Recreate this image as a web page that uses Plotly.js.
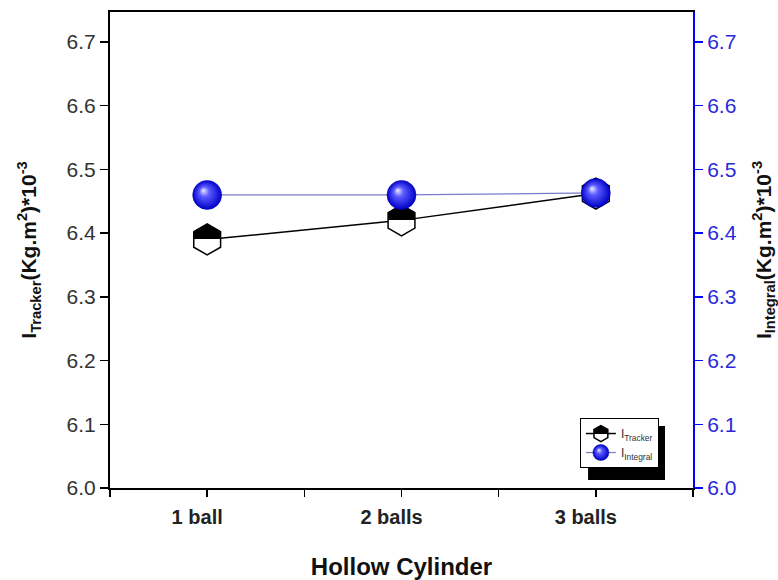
<!DOCTYPE html>
<html><head><meta charset="utf-8">
<script src="https://cdn.plot.ly/plotly-3.0.1.min.js"></script>
<style>html,body{margin:0;padding:0;background:#fff}#chart{width:778px;height:580px}</style>
</head><body><div id="chart"></div>
<script>
// ---- data ----
const categories = ['1 ball', '2 balls', '3 balls'];
const trackerValues = [6.39, 6.42, 6.462];
const integralValues = [6.46, 6.46, 6.463];
const yTickValues = [6.0, 6.1, 6.2, 6.3, 6.4, 6.5, 6.6, 6.7];
const xMinorTicks = [-0.5, 0.5, 1.5, 2.5];
const trackerName = 'I<sub>Tracker</sub>';
const integralName = 'I<sub>Integral</sub>';
const xTitle = 'Hollow Cylinder';
const yLeftTitle = 'I<sub>Tracker</sub>(Kg.m<sup>2</sup>)*10<sup>-3</sup>';
const yRightTitle = 'I<sub>Integral</sub>(Kg.m<sup>2</sup>)*10<sup>-3</sup>';

const xPos = categories.map((c, i) => i);
const FONT = 'Liberation Sans, Arial, sans-serif';
const BLUE = '#0000ff';
const BLUE_TXT = '#2a2ad8';

const traces = [
  {
    x: xPos, y: trackerValues, name: trackerName, type: 'scatter', mode: 'lines+markers',
    yaxis: 'y',
    line: {color: '#000000', width: 1.5},
    marker: {symbol: 'hexagon', size: 31, color: '#000000',
             gradient: {type: 'vertical', color: '#ffffff'},
             line: {color: '#000000', width: 1.5}}
  },
  {
    x: xPos, y: integralValues, name: integralName, type: 'scatter', mode: 'lines+markers',
    yaxis: 'y2',
    line: {color: '#7b7bc8', width: 1.2},
    marker: {symbol: 'circle', size: 29, color: '#0000d8',
             gradient: {type: 'radial', color: '#e6e6ff'},
             line: {color: '#0000b0', width: 0.5}}
  }
];

const yCommon = {
  range: [6.0, 6.747], tickmode: 'array', tickvals: yTickValues,
  ticktext: yTickValues.map(v => v.toFixed(1)),
  showgrid: false, zeroline: false, showline: true, linewidth: 2,
  ticks: 'outside', ticklen: 8, tickwidth: 1.5, fixedrange: true
};

const layout = {
  width: 778, height: 580,
  margin: {l: 110, r: 85, t: 12, b: 92, pad: 0},
  paper_bgcolor: '#ffffff', plot_bgcolor: '#ffffff',
  font: {family: FONT, color: '#222222'},
  showlegend: true,
  xaxis: {
    range: [-0.5, 2.5], tickmode: 'array', tickvals: xPos, ticktext: categories,
    showgrid: false, zeroline: false, showline: true, linewidth: 2, linecolor: '#000000',
    mirror: true, ticks: 'outside', ticklen: 7, tickwidth: 1.5, tickcolor: '#000000',
    ticklabelshift: -10, ticklabelstandoff: 3,
    minor: {tickmode: 'array', tickvals: xMinorTicks, ticks: 'outside', ticklen: 7, tickwidth: 1.5, tickcolor: '#000000', showgrid: false},
    tickfont: {family: FONT, size: 20, weight: 'bold', color: '#222222'},
    title: {text: xTitle, font: {family: FONT, size: 24, weight: 'bold', color: '#111111'}, standoff: 34},
    automargin: false
  },
  yaxis: Object.assign({}, yCommon, {
    linecolor: '#000000', tickcolor: '#000000',
    tickfont: {family: FONT, size: 21, color: '#333333'},
    title: {text: yLeftTitle, font: {family: FONT, size: 21, weight: 'bold', color: '#111111'}, standoff: 24},
    automargin: false
  }),
  yaxis2: Object.assign({}, yCommon, {
    overlaying: 'y', side: 'right', anchor: 'x',
    linecolor: BLUE, tickcolor: BLUE,
    tickfont: {family: FONT, size: 21, color: BLUE_TXT},
    title: {text: yRightTitle, font: {family: FONT, size: 21, weight: 'bold', color: '#111111'}, standoff: 21},
    automargin: false
  }),
  legend: {
    x: 0.806, y: 0.147, xanchor: 'left', yanchor: 'top',
    bgcolor: '#ffffff', bordercolor: '#000000', borderwidth: 1,
    font: {family: FONT, size: 12, color: '#333333'},
    itemsizing: 'trace', tracegroupgap: 0
  },
  shapes: [{
    type: 'rect', xref: 'paper', yref: 'paper', layer: 'below',
    x0: 0.82, x1: 0.952, y0: 0.017, y1: 0.13,
    fillcolor: '#000000', line: {width: 0}
  }]
};

function svgStop(offset, color) {
  const s = document.createElementNS('http://www.w3.org/2000/svg', 'stop');
  s.setAttribute('offset', offset);
  s.setAttribute('stop-color', color);
  s.setAttribute('stop-opacity', '1');
  return s;
}
function fixGradients() {
  const gd = document.getElementById('chart');
  gd.querySelectorAll('linearGradient').forEach(g => {
    if (g.getAttribute('data-fixed')) return;
    const stops = Array.from(g.querySelectorAll('stop'));
    if (stops.length < 2) return;
    stops.sort((a, b) => parseFloat(a.getAttribute('offset')) - parseFloat(b.getAttribute('offset')));
    const c0 = stops[0].getAttribute('stop-color');
    const c1 = stops[stops.length - 1].getAttribute('stop-color');
    while (g.firstChild) g.removeChild(g.firstChild);
    g.appendChild(svgStop('0%', c0)); g.appendChild(svgStop('50%', c0));
    g.appendChild(svgStop('50%', c1)); g.appendChild(svgStop('100%', c1));
    g.setAttribute('data-fixed', '1');
  });
  gd.querySelectorAll('radialGradient').forEach(g => {
    if (g.getAttribute('data-fixed')) return;
    g.setAttribute('fx', '0.36'); g.setAttribute('fy', '0.34');
    while (g.firstChild) g.removeChild(g.firstChild);
    g.appendChild(svgStop('0%', '#ececff'));
    g.appendChild(svgStop('35%', '#5a5aff'));
    g.appendChild(svgStop('100%', '#0000c8'));
    g.setAttribute('data-fixed', '1');
  });
}

Plotly.newPlot('chart', traces, layout, {staticPlot: true, displayModeBar: false}).then(gd => {
  fixGradients();
  gd.on && gd.on('plotly_afterplot', fixGradients);
  setTimeout(fixGradients, 50);
});
</script>
</body></html>
